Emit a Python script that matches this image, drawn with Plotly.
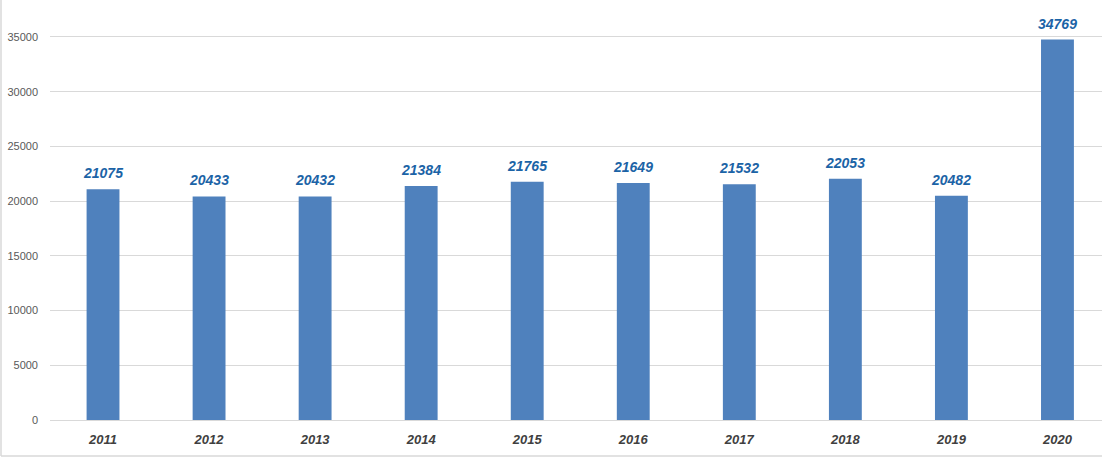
import plotly.graph_objects as go

years = ["2011", "2012", "2013", "2014", "2015", "2016", "2017", "2018", "2019", "2020"]
values = [21075, 20433, 20432, 21384, 21765, 21649, 21532, 22053, 20482, 34769]
y_ticks = [0, 5000, 10000, 15000, 20000, 25000, 30000, 35000]

W, H = 1102, 472
L, R, T, B = 50, 0, 0, 52

fig = go.Figure()
fig.add_trace(go.Bar(
    x=years, y=values,
    marker=dict(color="#4F81BD", line=dict(width=0)),
    width=0.31,
    hoverinfo="x+y",
))

for i, v in enumerate(values):
    fig.add_annotation(
        x=i, y=v, xref="x", yref="y", text=f"<b><i>{v}</i></b>", showarrow=False,
        yanchor="bottom", yshift=6,
        font=dict(family="Liberation Sans", size=14, color="#1B63A6"),
    )

pw = W - L - R
ph = H - T - B
# partial frame lines (left and bottom)
fig.add_shape(type="line", xref="paper", yref="paper",
              x0=-(L - 1) / pw, x1=1.0, y0=-(456 - 420) / ph, y1=-(456 - 420) / ph,
              line=dict(color="#D9D9D9", width=1.5))
fig.add_shape(type="line", xref="paper", yref="paper",
              x0=-(L - 1) / pw, x1=-(L - 1) / pw, y0=-(456 - 420) / ph, y1=1.0,
              line=dict(color="#D9D9D9", width=1.5))

fig.update_layout(
    width=W, height=H,
    margin=dict(l=L, r=R, t=T, b=B, pad=0),
    paper_bgcolor="white", plot_bgcolor="white",
    showlegend=False,
    xaxis=dict(
        type="category",
        range=[-0.5, 9.42],
        showgrid=False, zeroline=False, showline=False,
        tickfont=dict(family="Liberation Sans", size=13, color="#404040"),
        tickprefix="<b><i>", ticksuffix="</i></b>",
        ticks="", ticklabelstandoff=10,
    ),
    yaxis=dict(
        range=[0, 38380],
        tickvals=y_ticks, ticktext=[str(t) for t in y_ticks],
        showgrid=True, gridcolor="#D9D9D9", gridwidth=1,
        zeroline=True, zerolinecolor="#D9D9D9", zerolinewidth=1,
        showline=False, ticks="",
        tickfont=dict(family="Liberation Sans", size=11, color="#595959"),
        ticklabelstandoff=11,
    ),
)

fig.write_html(
    "out.html",
    config={"displayModeBar": False},
    post_script="document.body.style.margin='0';document.body.style.overflow='hidden';",
)
